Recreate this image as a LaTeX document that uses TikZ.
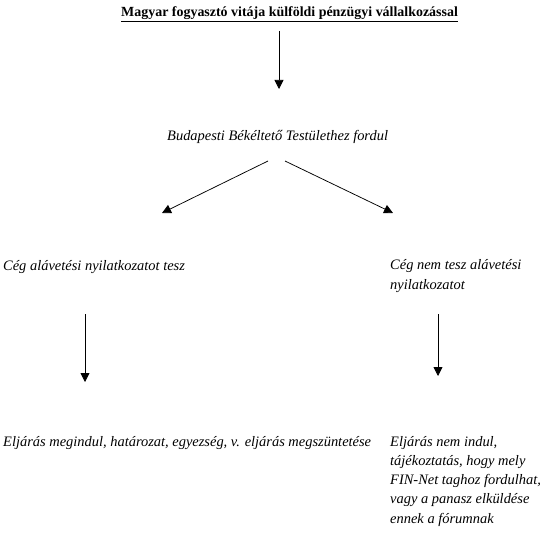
\documentclass[tikz,border=0pt]{standalone}
\usepackage{fontspec}
\setmainfont{Liberation Serif}
\usetikzlibrary{arrows.meta}
\tikzset{
  txt/.style  ={anchor=base west, inner sep=0pt, align=left,
                font=\fontsize{14.5}{19.3}\selectfont\itshape},
  ttl/.style  ={anchor=base west, inner sep=0pt,
                font=\fontsize{14}{16}\selectfont\bfseries},
  arr/.style  ={-{Triangle[length=9bp,width=9bp]}, line width=0.75bp}
}
\begin{document}
\begin{tikzpicture}[x=1bp,y=-1bp]
\useasboundingbox (0,0) rectangle (550,535);

\node[ttl] (title) at (121,17) {\underline{Magyar fogyasztó vitája külföldi pénzügyi vállalkozással}};
\node[txt] (bud) at (167,141) {Budapesti Békéltető Testülethez fordul};
\node[txt] (yes) at (3,270) {Cég alávetési nyilatkozatot tesz};
% multi-line nodes: base is the last line
\node[txt] (no) at (390,289) {Cég nem tesz alávetési\\nyilatkozatot};
\node[txt] (proc) at (3,446) {Eljárás megindul, határozat, egyezség, v. eljárás megszüntetése};
\node[txt] (noproc) at (390,523) {Eljárás nem indul,\\tájékoztatás, hogy mely\\FIN-Net taghoz fordulhat,\\vagy a panasz elküldése\\ennek a fórumnak};

% arrow ends
\coordinate (t-s) at (279,31);   \coordinate (b-n) at (279,89);
\coordinate (b-sl) at (268,161); \coordinate (y-n) at (162,213);
\coordinate (b-sr) at (285,161); \coordinate (n-n) at (393,213);
\coordinate (y-s) at (85,314);   \coordinate (p-n) at (85,382);
\coordinate (n-s) at (438,314);  \coordinate (q-n) at (438,376);

\draw[arr] (t-s) -- (b-n);
\draw[arr] (b-sl) -- (y-n);
\draw[arr] (b-sr) -- (n-n);
\draw[arr] (y-s) -- (p-n);
\draw[arr] (n-s) -- (q-n);
\end{tikzpicture}
\end{document}
